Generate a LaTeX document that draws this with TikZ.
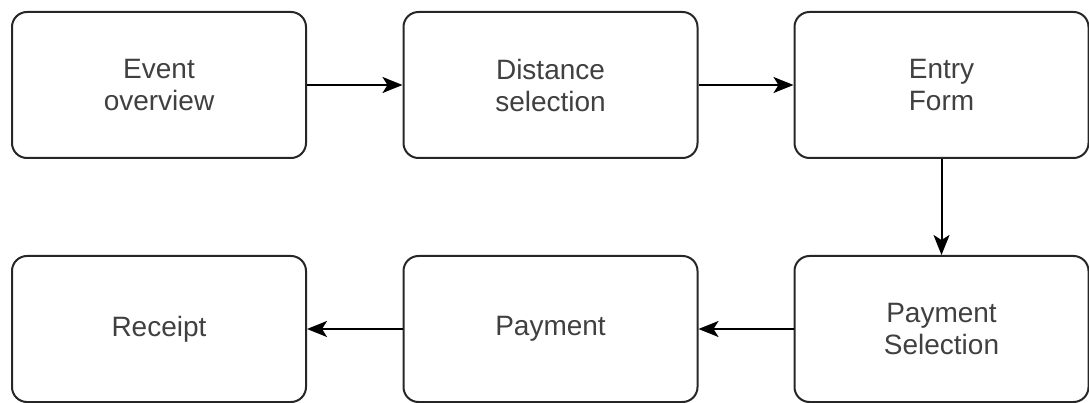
\documentclass[tikz,border=0pt]{standalone}
\usepackage{fontspec}
\setmainfont{Liberation Sans}
\usetikzlibrary{arrows.meta}
\begin{document}
\begin{tikzpicture}[x=1pt,y=-1pt,
  stepbox/.style={draw=black!85, line width=2pt, rounded corners=15pt, minimum width=294pt, minimum height=146pt, inner sep=0pt, align=center, text=black!75, font=\fontsize{28}{32}\selectfont},
  conn/.style={draw=black, line width=2pt, -{Stealth[length=20pt,width=16pt,inset=5pt]}}]
\useasboundingbox (0,0) rectangle (1089,403);
\node[stepbox] (a) at (159,85) {Event\\overview};
\node[stepbox] (b) at (550.5,85) {Distance\\selection};
\node[stepbox] (c) at (941.5,85) {Entry\\Form};
\node[stepbox] (d) at (941.5,329) {Payment\\Selection};
\node[stepbox] (e) at (550.5,329) {Payment};
\node[stepbox] (f) at (159,329) {Receipt};
\draw[conn] (a) -- (b);
\draw[conn] (b) -- (c);
\draw[conn] (c) -- (d);
\draw[conn] (d) -- (e);
\draw[conn] (e) -- (f);
\end{tikzpicture}
\end{document}
